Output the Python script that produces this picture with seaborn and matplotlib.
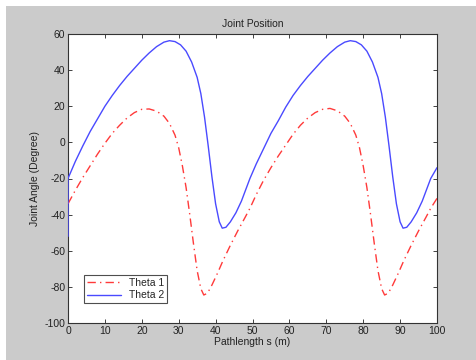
import matplotlib
matplotlib.use("Agg")
import matplotlib.pyplot as plt
import pandas as pd
import seaborn as sns

# Theta 2 (blue, solid)
theta2_s = [0, 0, 2, 4, 6, 8, 10, 12, 14, 16, 18, 20, 22, 24, 26, 27.5, 29, 30.5, 32, 33.5,
            35, 36, 37, 38, 39, 40, 41, 41.8, 42.8, 44, 45.5, 47, 49.3,
            51, 53, 55, 57, 59, 61, 63, 65, 67, 69, 71, 73, 75, 76.5, 78, 79.5, 81, 82.5,
            84, 85, 86, 87, 88, 89, 90, 90.8, 91.8, 93, 94.5, 96, 98.3, 100]
theta2_v = [-52, -20, -10.5, -2, 6, 13, 20, 26, 31.5, 36.5, 41, 45.5, 49.5, 53, 55.5, 56.3, 55.8, 54, 50.5, 44.5,
            36, 27, 14, -2, -19, -34, -44, -47.5, -47, -44, -39, -32.5, -20,
            -12, -3.5, 5, 12, 19.5, 26, 31.5, 36.5, 41, 45.5, 49.5, 53, 55.5, 56.3, 55.8, 54, 50.5, 44.5,
            36, 27, 14, -2, -19, -34, -44, -47.5, -47, -44, -39, -32.5, -20, -14]

# Theta 1 (red, dash-dot)
theta1_s = [0, 2, 4, 6, 8, 10, 12, 14, 16, 18, 20, 22, 24, 26, 27.5, 29, 30, 31, 32, 33,
            34, 35, 36, 36.8, 37.8, 39, 40.5, 42, 44, 46, 48, 49.3,
            51, 53, 55, 57, 59, 61, 63, 65, 67, 69, 71, 73, 75, 76.5, 78, 79, 80, 81, 82,
            83, 84, 85, 85.8, 86.8, 88, 89.5, 91, 93, 95, 97, 98.3, 100]
theta1_v = [-34, -26.5, -19.5, -13, -6.5, -0.5, 5, 9.5, 13.5, 16.5, 18.3, 18.5, 17.3, 14.5, 10.5, 4, -3, -13, -25, -40,
            -56, -71, -81, -84.5, -83.5, -79, -72.5, -65.5, -57, -49, -41.5, -36.5,
            -29, -21, -14, -7.5, -1.5, 4.5, 9.5, 13.5, 16.5, 18.3, 18.8, 17.5, 14.5, 10.5, 4, -3, -13, -25, -40,
            -56, -71, -81, -84.5, -83.5, -79, -72.5, -65.5, -57, -49, -41.5, -36.5, -31]

x_ticks = list(range(0, 101, 10))
y_ticks = list(range(-100, 61, 20))

df = pd.concat([
    pd.DataFrame({"s": theta1_s, "v": theta1_v, "name": "Theta 1"}),
    pd.DataFrame({"s": theta2_s, "v": theta2_v, "name": "Theta 2"}),
], ignore_index=True)

sns.set_theme(style="ticks")
plt.rcParams["font.family"] = ["Liberation Sans", "DejaVu Sans"]
plt.rcParams["axes.unicode_minus"] = False

fig = plt.figure(figsize=(4.76, 3.6), dpi=100, facecolor="white")
# grey window panel, white strip top and left like the screenshot
fig.patches.append(plt.Rectangle((6 / 476, 0), 1, 1 - 6 / 360, transform=fig.transFigure,
                                 facecolor="#cbcbcb", edgecolor="none", zorder=-10))
ax = fig.add_axes([68 / 476, 37 / 360, (437 - 68) / 476, (323 - 34) / 360])
ax.set_facecolor("white")

sns.lineplot(data=df, x="s", y="v", hue="name", style="name", sort=False, estimator=None,
             palette={"Theta 1": "#ff3a3a", "Theta 2": "#4a4aff"},
             dashes={"Theta 1": (6, 3, 1, 3), "Theta 2": ""}, linewidth=1.0, ax=ax)
for ln in ax.lines:
    ln.set_zorder(3)

ax.set_xlim(0, 100)
ax.set_ylim(-100, 60)
ax.set_xticks(x_ticks)
ax.set_yticks(y_ticks)
ax.tick_params(direction="in", length=3, width=0.6, labelsize=7.5, top=True, right=True,
               colors="#222222", pad=2)
for sp in ax.spines.values():
    sp.set_visible(True)
    sp.set_linewidth(0.8)
    sp.set_color("#333333")

ax.set_title("Joint Position", fontsize=7.5, pad=5, color="#222222")
ax.set_xlabel("Pathlength s (m)", fontsize=7.5, labelpad=1, color="#222222")
ax.set_ylabel("Joint Angle (Degree)", fontsize=7.5, labelpad=3, color="#222222")

leg = ax.legend(loc="lower left", bbox_to_anchor=(0.03, 0.05), fontsize=7.5, frameon=True,
                fancybox=False, handlelength=3.2, borderpad=0.3, labelspacing=0.2)
leg.get_frame().set_edgecolor("#222222")
leg.get_frame().set_linewidth(0.8)

fig.savefig("out.png", dpi=100, facecolor=fig.get_facecolor())
